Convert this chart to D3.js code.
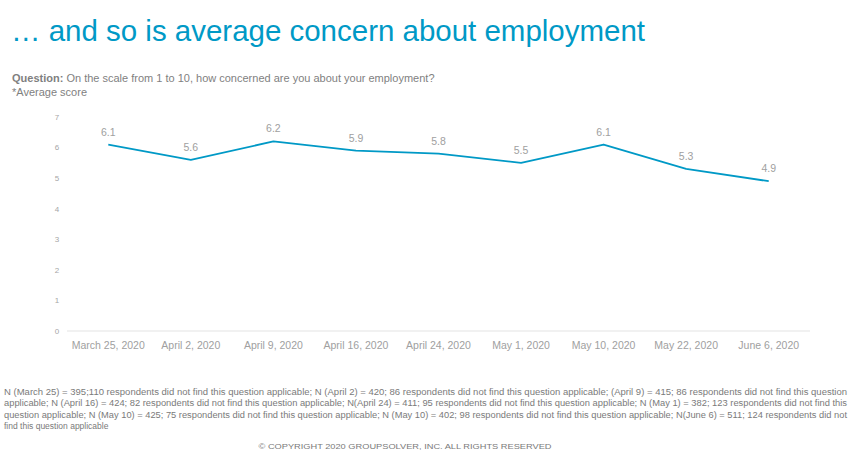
<!DOCTYPE html>
<html>
<head>
<meta charset="utf-8">
<script src="https://cdn.jsdelivr.net/npm/d3@7"></script>
<style>
  body { margin: 0; background: #fff; }
  svg { display: block; font-family: "Liberation Sans", Arial, sans-serif; }
</style>
</head>
<body>
<svg id="chart" width="854" height="456"></svg>
<script>
const dates = ["March 25, 2020", "April 2, 2020", "April 9, 2020", "April 16, 2020", "April 24, 2020",
               "May 1, 2020", "May 10, 2020", "May 22, 2020", "June 6, 2020"];
const scores = [6.1, 5.6, 6.2, 5.9, 5.8, 5.5, 6.1, 5.3, 4.9];
const yTicks = [0, 1, 2, 3, 4, 5, 6, 7];
const footnoteLines = [
  "N (March 25) = 395;110 respondents did not find this question applicable; N (April 2) = 420; 86 respondents did not find this question applicable; (April 9) = 415; 86 respondents did not find this question",
  "applicable; N (April 16) = 424; 82 respondents did not find this question applicable; N(April 24) = 411; 95 respondents did not find this question applicable; N (May 1) = 382; 123 respondents did not find this",
  "question applicable; N (May 10) = 425; 75 respondents did not find this question applicable; N (May 10) = 402; 98 respondents did not find this question applicable; N(June 6) = 511; 124 respondents did not",
  "find this question applicable"
];

const svg = d3.select("#chart");
const blue = "#0099c6";

// title + question
svg.append("text")
  .attr("x", 11).attr("y", 41)
  .attr("fill", blue).attr("font-size", "29px")
  .attr("textLength", 634)
  .attr("lengthAdjust", "spacingAndGlyphs")
  .text("… and so is average concern about employment");

const q = svg.append("text")
  .attr("x", 12).attr("y", 82)
  .attr("fill", "#7f7f7f").attr("font-size", "11px");
q.append("tspan").attr("font-weight", "bold").text("Question:");
q.append("tspan").text(" On the scale from 1 to 10, how concerned are you about your employment?");

svg.append("text")
  .attr("x", 12).attr("y", 96)
  .attr("fill", "#7f7f7f").attr("font-size", "11px")
  .text("*Average score");

// scales
const x = d3.scaleBand().domain(dates).range([67, 810]);
const y = d3.scaleLinear().domain([0, 7]).range([331, 117]);

// y tick labels (no axis line)
svg.append("g")
  .selectAll("text")
  .data(yTicks).enter().append("text")
  .attr("x", 57).attr("y", d => y(d))
  .attr("dy", "0.35em")
  .attr("text-anchor", "middle")
  .attr("fill", "#a6a6a6").attr("font-size", "8px")
  .text(d => d);

// baseline
svg.append("line")
  .attr("x1", 67).attr("x2", 810)
  .attr("y1", y(0)).attr("y2", y(0))
  .attr("stroke", "#e3e3e3").attr("stroke-width", 1);

// x labels
svg.append("g")
  .selectAll("text")
  .data(dates).enter().append("text")
  .attr("x", d => x(d) + x.bandwidth() / 2)
  .attr("y", 349)
  .attr("text-anchor", "middle")
  .attr("fill", "#a0a0a0").attr("font-size", "10.5px")
  .text(d => d);

// line
const line = d3.line()
  .x((d, i) => x(dates[i]) + x.bandwidth() / 2)
  .y(d => y(d));

svg.append("path")
  .datum(scores)
  .attr("d", line)
  .attr("fill", "none")
  .attr("stroke", blue)
  .attr("stroke-width", 1.8)
  .attr("stroke-linejoin", "round");

// value labels
svg.append("g")
  .selectAll("text")
  .data(scores).enter().append("text")
  .attr("x", (d, i) => x(dates[i]) + x.bandwidth() / 2)
  .attr("y", d => y(d) - 9)
  .attr("text-anchor", "middle")
  .attr("fill", "#a0a0a0").attr("font-size", "10.5px")
  .text(d => d.toFixed(1));

// footnote
svg.append("g")
  .selectAll("text")
  .data(footnoteLines).enter().append("text")
  .attr("x", 4)
  .attr("y", (d, i) => 395 + i * 11.3)
  .attr("fill", "#7a7a7a").attr("font-size", "8.5px")
  .attr("textLength", (d, i) => i < 3 ? 843 : null)
  .attr("lengthAdjust", "spacingAndGlyphs")
  .text(d => d);

svg.append("text")
  .attr("x", 405).attr("y", 449)
  .attr("text-anchor", "middle")
  .attr("fill", "#7a7a7a").attr("font-size", "8px")
  .attr("textLength", 293)
  .attr("lengthAdjust", "spacingAndGlyphs")
  .text("© COPYRIGHT 2020 GROUPSOLVER, INC. ALL RIGHTS RESERVED");
</script>
</body>
</html>
